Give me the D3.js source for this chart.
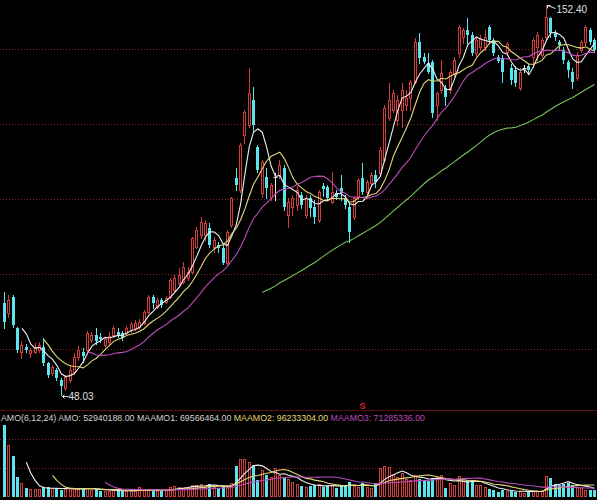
<!DOCTYPE html>
<html><head><meta charset="utf-8">
<script src="https://cdn.jsdelivr.net/npm/d3@7"></script>
<style>html,body{margin:0;padding:0;background:#000;overflow:hidden}svg{display:block}</style>
</head><body>
<svg id="c" width="597" height="500"></svg>
<script>
// ---- data (price in yuan, amount in millions) ----
const open=[72.7,70.0,74.3,66.0,59.5,60.9,59.3,59.5,60.1,60.9,
56.6,53.9,54.7,52.1,49.9,52.1,54.2,58.2,59.5,60.1,
62.8,64.1,63.6,61.4,62.2,64.1,64.9,64.6,64.6,65.4,
66.0,66.2,67.3,70.2,74.3,71.6,73.5,72.9,74.3,76.1,
78.0,78.3,79.4,81.0,87.6,90.9,90.9,92.7,87.6,88.2,
87.4,83.4,93.5,106.1,102.9,117.6,120.3,127.0,114.4,102.1,
106.4,101.0,106.4,106.9,108.8,96.2,98.4,98.9,101.6,96.2,
100.8,98.4,94.9,104.0,103.7,99.7,102.1,103.4,100.8,98.4,
95.7,101.0,106.1,102.4,104.8,106.9,107.4,110.9,122.2,124.3,
121.6,124.3,125.6,127.5,131.8,142.5,138.5,136.9,137.2,125.6,
129.7,130.2,129.7,134.2,139.6,143.8,145.7,144.4,139.6,141.2,
141.2,146.5,143.0,138.5,138.2,139.8,135.5,135.0,130.2,135.5,
136.1,138.5,141.2,139.0,143.8,148.9,144.9,142.5,140.4,137.2,
134.5,132.9,140.4,142.5,145.7,143.0];
const high=[75.6,74.8,74.8,66.2,62.5,61.7,60.6,62.0,62.2,63.3,
56.9,56.1,55.3,52.6,53.4,56.1,59.3,61.2,60.6,65.2,
64.9,66.0,64.6,63.6,64.9,66.5,66.0,65.2,66.5,67.6,
68.1,68.4,70.8,74.8,74.8,74.0,74.0,74.5,79.4,80.2,
82.0,83.6,82.3,90.3,93.0,95.7,94.9,94.1,90.3,89.0,
88.7,92.2,101.0,108.8,115.5,124.3,135.5,130.5,114.9,110.9,
108.8,104.8,107.4,110.9,109.6,100.8,101.6,104.0,102.4,101.6,
101.6,100.2,102.9,104.8,104.2,107.7,102.9,106.9,101.6,99.4,
101.3,106.1,110.1,105.6,107.7,108.2,114.4,125.6,131.5,129.7,
128.3,131.5,129.7,132.3,143.6,144.9,139.6,139.6,137.7,129.1,
137.7,131.0,135.0,138.5,147.0,146.3,148.9,145.2,143.6,144.4,
145.7,147.0,143.6,139.0,139.0,142.5,136.6,136.1,135.5,136.3,
136.9,143.6,145.2,143.6,152.4,149.2,145.7,143.0,141.2,137.7,
135.5,139.8,143.0,147.0,146.3,143.6];
const low=[66.0,68.9,66.2,59.5,57.9,59.5,58.2,59.3,59.5,56.1,
52.9,53.4,52.1,48.03,49.4,51.5,53.7,57.4,56.9,59.5,
62.2,61.7,62.2,60.9,61.7,63.6,63.6,62.8,64.1,64.9,
65.4,65.7,67.0,70.0,71.3,71.3,71.6,72.7,74.0,75.6,
77.5,78.0,78.8,80.7,87.4,90.0,89.5,87.6,86.3,86.3,
83.1,83.1,93.0,102.9,102.4,115.5,119.8,118.4,107.7,101.0,
100.8,100.2,100.2,106.1,97.5,93.0,96.2,97.5,98.1,95.4,
95.9,94.1,94.3,101.3,100.2,99.4,100.5,100.2,98.1,89.0,
95.1,100.5,101.8,101.8,104.2,103.7,106.9,110.4,121.6,123.8,
120.3,119.8,124.3,124.3,131.5,136.9,136.9,134.2,122.4,121.6,
128.9,125.6,128.9,133.1,138.5,142.2,142.2,139.0,138.8,140.4,
140.4,142.2,139.0,137.2,131.8,139.0,131.3,130.7,129.7,134.5,
133.9,135.8,137.7,138.5,143.0,143.8,143.0,140.4,136.9,133.1,
130.2,132.3,139.8,141.7,141.9,139.8];
const close=[67.6,73.5,66.8,60.1,61.4,60.1,60.1,60.9,61.4,56.6,
53.4,55.5,52.6,50.4,52.9,54.7,58.2,60.1,58.5,64.6,
64.1,62.5,63.0,63.0,63.8,66.0,64.1,63.3,66.0,67.0,
67.3,67.6,70.2,74.3,72.7,73.5,72.1,74.0,78.8,79.4,
80.2,82.3,81.0,90.0,92.2,94.3,94.1,88.2,89.5,87.4,
83.4,91.7,100.8,104.2,114.9,123.8,128.9,120.3,108.2,110.4,
103.4,104.2,106.4,109.6,98.4,99.7,100.8,102.9,98.9,100.8,
98.1,95.7,102.4,103.2,100.8,102.4,101.0,102.1,98.9,91.7,
100.8,105.6,102.4,105.0,106.9,105.0,113.6,124.8,127.0,128.9,
127.0,129.7,127.5,131.8,142.5,138.2,137.2,134.5,123.5,128.9,
134.2,127.8,134.5,137.7,146.5,145.7,144.4,139.6,143.0,143.6,
143.8,143.0,139.6,137.4,134.5,142.0,132.3,131.5,134.5,135.5,
135.0,143.0,144.4,143.0,149.2,144.9,143.8,141.7,137.7,135.0,
131.8,139.0,142.5,146.5,142.5,140.4];
const amount=[576,416,328,160,112,72,64,64,64,78,
78,70,62,56,62,70,72,64,62,72,
56,64,48,48,52,56,48,48,48,52,
52,80,56,56,48,48,48,56,80,88,
80,72,80,96,96,104,88,104,80,72,
88,80,112,248,304,304,280,256,136,216,
176,160,230,176,160,144,120,104,88,80,
88,96,104,80,88,96,72,96,96,120,
88,80,112,80,72,104,232,248,240,176,
160,192,144,136,176,144,136,128,152,160,
176,72,112,96,168,128,136,120,96,96,
80,64,60,40,55,45,50,40,48,35,
38,50,50,45,170,150,105,95,105,112,
95,80,70,60,59.5,52.94];

const maPeriods=[5,10,20,60];
const maColors=['#f0f0f0','#e2d878','#bc4cbc','#78c45a'];
const volMaPeriods=[6,12,24];
const volMaColors=['#f0f0f0','#e2d878','#bc4cbc'];
const priceGrid=[60.35,80.42,100.49,120.56,140.63];
const volGrid=[232,464];
const signalIdx=[82];
const legend=[
  {t:'AMO(6,12,24) ',c:'#d4d4d4'},
  {t:'AMO: 52940188.00 ',c:'#d4d4d4'},
  {t:'MAAMO1: 69566464.00 ',c:'#d4d4d4'},
  {t:'MAAMO2: 96233304.00 ',c:'#e2d878'},
  {t:'MAAMO3: 71285336.00',c:'#bc4cbc'}
];

// ---- style ----
const RED='#d23c3c', CYAN='#5ce4ec', GRID='#862222', SEP='#5e1212';
const FONT='"Liberation Sans", Arial, sans-serif';

const N=close.length;
const svg=d3.select('#c');
svg.append('rect').attr('width',597).attr('height',500).attr('fill','#000');

const x=d3.scaleLinear().domain([0,N-1]).range([4.5,594.5]);
const y=d3.scaleLinear().domain([48.03,152.40]).range([395,5]);
const yv=d3.scaleLinear().domain([0,696]).range([497,410]);

function sma(arr,n){return arr.map((_,i)=>i<n-1?null:d3.mean(arr.slice(i-n+1,i+1)));}
const cxOf=i=>Math.floor(x(i))+0.5;

// grids
const g=svg.append('g');
g.selectAll('.pg').data(priceGrid).join('line')
 .attr('x1',0).attr('x2',597)
 .attr('y1',d=>Math.round(y(d))+0.5).attr('y2',d=>Math.round(y(d))+0.5)
 .attr('stroke',GRID).attr('stroke-dasharray','1,2');
g.selectAll('.vg').data(volGrid).join('line')
 .attr('x1',0).attr('x2',597)
 .attr('y1',d=>Math.round(yv(d))+0.5).attr('y2',d=>Math.round(yv(d))+0.5)
 .attr('stroke',GRID).attr('stroke-dasharray','1,2');
// separator
svg.append('line').attr('x1',0).attr('x2',597)
 .attr('y1',Math.round(yv(696))+0.5).attr('y2',Math.round(yv(696))+0.5)
 .attr('stroke',SEP);

// candles
const cg=svg.append('g');
d3.range(N).forEach(i=>{
  const cx=cxOf(i);
  const yo=Math.round(y(open[i])), yc=Math.round(y(close[i]));
  const yh=Math.round(y(high[i])), yl=Math.round(y(low[i]));
  const top=Math.min(yo,yc), bot=Math.max(yo,yc);
  if(close[i]===open[i]){
    cg.append('line').attr('x1',cx).attr('x2',cx).attr('y1',yh).attr('y2',yl+1).attr('stroke','#e8e8e8');
    cg.append('line').attr('x1',cx-2).attr('x2',cx+2).attr('y1',yo+0.5).attr('y2',yo+0.5).attr('stroke','#e8e8e8');
  } else if(close[i]>open[i]){
    if(top>yh) cg.append('line').attr('x1',cx).attr('x2',cx).attr('y1',yh).attr('y2',top).attr('stroke',RED);
    if(yl>bot) cg.append('line').attr('x1',cx).attr('x2',cx).attr('y1',bot+1).attr('y2',yl+1).attr('stroke',RED);
    cg.append('rect').attr('x',cx-1).attr('y',top+0.5).attr('width',2).attr('height',Math.max(bot-top,1))
      .attr('fill','#000').attr('stroke',RED);
  } else {
    cg.append('line').attr('x1',cx).attr('x2',cx).attr('y1',yh).attr('y2',yl+1).attr('stroke',CYAN);
    cg.append('rect').attr('x',cx-1.5).attr('y',top).attr('width',3).attr('height',Math.max(bot-top,1))
      .attr('fill',CYAN);
  }
});

// price moving averages
maPeriods.forEach((p,k)=>{
  const m=sma(close,p);
  const line=d3.line().defined(d=>d!=null).x((d,i)=>x(i)).y(d=>y(d));
  svg.append('path').datum(m).attr('d',line).attr('fill','none')
    .attr('stroke',maColors[k]).attr('stroke-width',1.1);
});

// high / low labels
const iMax=d3.maxIndex(high), iMin=d3.minIndex(low);
const fmt=d3.format('.2f');
{
  const cx=cxOf(iMax), yh=Math.round(y(high[iMax]));
  svg.append('path').attr('d',`M${cx+1},${yh+0.5}L${cx+9},${yh+3.5}M${cx+1},${yh+0.5}l3,0M${cx+1},${yh+0.5}l0,3`)
    .attr('stroke','#e0e0e0').attr('fill','none');
  svg.append('text').attr('x',cx+10).attr('y',yh+8).attr('fill','#e0e0e0')
    .attr('font-family',FONT).attr('font-size',10).text(fmt(high[iMax]));
}
{
  const cx=cxOf(iMin), yl=Math.round(y(low[iMin]));
  svg.append('path').attr('d',`M${cx+1},${yl+1.5}L${cx+7},${yl+1.5}M${cx+1},${yl+1.5}l2,-2M${cx+1},${yl+1.5}l2,2`)
    .attr('stroke','#e0e0e0').attr('fill','none');
  svg.append('text').attr('x',cx+7).attr('y',yl+5).attr('fill','#e0e0e0')
    .attr('font-family',FONT).attr('font-size',10).text(fmt(low[iMin]));
}

// volume bars
const vg=svg.append('g');
const base=Math.round(yv(0));
d3.range(N).forEach(i=>{
  const cx=cxOf(i), t=Math.round(yv(amount[i]));
  if(close[i]>=open[i]){
    vg.append('rect').attr('x',cx-1).attr('y',t+0.5).attr('width',2).attr('height',Math.max(base-t-1,0))
      .attr('fill','#000').attr('stroke',RED);
  } else {
    vg.append('rect').attr('x',cx-1.5).attr('y',t).attr('width',3).attr('height',base-t).attr('fill',CYAN);
  }
});
volMaPeriods.forEach((p,k)=>{
  const m=sma(amount,p);
  const line=d3.line().defined(d=>d!=null).x((d,i)=>x(i)).y(d=>yv(d));
  svg.append('path').datum(m).attr('d',line).attr('fill','none')
    .attr('stroke',volMaColors[k]).attr('stroke-width',1.1);
});

// signal marker
signalIdx.forEach(i=>{
  svg.append('text').attr('x',cxOf(i)).attr('y',409).attr('text-anchor','middle')
    .attr('fill','#e02020').attr('font-family',FONT).attr('font-size',9).attr('font-weight','bold').text('S');
});

// legend text
const lt=svg.append('text').attr('x',1).attr('y',421).attr('font-family',FONT).attr('font-size',9.6)
  .attr('textLength',424).attr('lengthAdjust','spacingAndGlyphs');
legend.forEach(s=>lt.append('tspan').attr('fill',s.c).text(s.t));
</script>
</body></html>
